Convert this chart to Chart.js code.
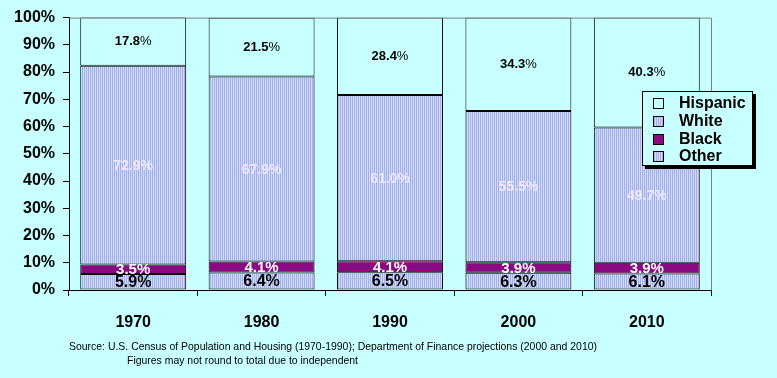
<!DOCTYPE html>
<html>
<head>
<meta charset="utf-8">
<script src="https://cdn.jsdelivr.net/npm/chart.js@4/dist/chart.umd.min.js"></script>
<style>
  html, body { margin: 0; padding: 0; background: #c8ffff; }
  #wrap { width: 777px; height: 378px; position: relative; }
</style>
</head>
<body>
<div id="wrap"><canvas id="c" width="777" height="378"></canvas></div>
<script>
const categories = ['1970', '1980', '1990', '2000', '2010'];
const hispanic = [17.8, 21.5, 28.4, 34.3, 40.3];
const white    = [72.9, 67.9, 61.0, 55.5, 49.7];
const black    = [3.5, 4.1, 4.1, 3.9, 3.9];
const other    = [5.9, 6.4, 6.5, 6.3, 6.1];
const yTicks   = [0, 10, 20, 30, 40, 50, 60, 70, 80, 90, 100];
const sourceLines = [
  'Source: U.S. Census of Population and Housing (1970-1990); Department of Finance projections (2000 and 2010)',
  'Figures may not round to total due to independent'
];

const FONT = 'Arial, "Liberation Sans", sans-serif';
const BG = '#c8ffff';

function makePattern() {
  const p = document.createElement('canvas');
  p.width = 2; p.height = 2;
  const g = p.getContext('2d');
  g.fillStyle = '#a8ecfa'; g.fillRect(0, 0, 2, 2);
  g.fillStyle = '#cc9ee6';
  g.fillRect(0, 0, 1, 2);
  return document.getElementById('c').getContext('2d').createPattern(p, 'repeat');
}
const pat = makePattern();

const labelStyles = {
  Other:    { color: '#000000', font: 'bold 16px ' + FONT },
  Black:    { color: '#ffffff', font: 'bold 15px ' + FONT },
  White:    { color: '#eee8ff', font: 'bold 14px ' + FONT },
  Hispanic: { color: '#000000', font: 'bold 13px ' + FONT, pctFont: '13px ' + FONT }
};

const decor = {
  id: 'decor',
  beforeDraw(chart) {
    const ctx = chart.ctx;
    ctx.save();
    ctx.fillStyle = BG;
    ctx.fillRect(0, 0, chart.width, chart.height);
    ctx.restore();
  },
  afterDatasetsDraw(chart) {
    const ctx = chart.ctx;
    const a = chart.chartArea;
    ctx.save();
    ctx.strokeStyle = '#808080';
    ctx.lineWidth = 1;
    ctx.beginPath();
    ctx.moveTo(a.left, a.top + 0.5); ctx.lineTo(a.right + 0.5, a.top + 0.5);
    ctx.lineTo(a.right + 0.5, a.bottom);
    ctx.stroke();
    chart.data.datasets.forEach((ds, di) => {
      const meta = chart.getDatasetMeta(di);
      const st = labelStyles[ds.label];
      meta.data.forEach((bar, i) => {
        const v = ds.data[i];
        const cy = (bar.y + bar.base) / 2;
        ctx.textBaseline = 'middle';
        ctx.fillStyle = st.color;
        if (st.pctFont) {
          ctx.font = st.font;
          const num = v.toFixed(1);
          const w1 = ctx.measureText(num).width;
          ctx.font = st.pctFont;
          const w2 = ctx.measureText('%').width;
          const x0 = bar.x - (w1 + w2) / 2;
          ctx.textAlign = 'left';
          ctx.font = st.font;
          ctx.fillText(num, x0, cy);
          ctx.font = st.pctFont;
          ctx.fillText('%', x0 + w1, cy);
        } else {
          ctx.font = st.font;
          ctx.textAlign = 'center';
          ctx.fillText(v.toFixed(1) + '%', bar.x, cy + 1);
        }
      });
    });
    ctx.restore();
  },
  afterDraw(chart) {
    const ctx = chart.ctx;
    ctx.save();
    const lx = 642, ly = 91, lw = 111, lh = 75;
    ctx.fillStyle = '#000000';
    ctx.fillRect(lx + 3, ly + 3, lw, lh);
    ctx.fillStyle = BG;
    ctx.fillRect(lx, ly, lw, lh);
    ctx.strokeStyle = '#000000';
    ctx.lineWidth = 1;
    ctx.strokeRect(lx + 0.5, ly + 0.5, lw - 1, lh - 1);
    const order = ['Hispanic', 'White', 'Black', 'Other'];
    const rowY = [103, 121, 139, 156];
    order.forEach((name, k) => {
      const ds = chart.data.datasets.find(d => d.label === name);
      ctx.fillStyle = ds.backgroundColor;
      ctx.fillRect(653, rowY[k] - 5, 11, 11);
      ctx.strokeStyle = '#000000';
      ctx.strokeRect(653.5, rowY[k] - 4.5, 10, 10);
      ctx.fillStyle = '#000000';
      ctx.font = 'bold 16px ' + FONT;
      ctx.textAlign = 'left';
      ctx.textBaseline = 'middle';
      ctx.fillText(name, 679, rowY[k] + 1);
    });
    ctx.font = '11px ' + FONT;
    ctx.fillStyle = '#000000';
    ctx.textBaseline = 'middle';
    ctx.textAlign = 'left';
    const targets = [[69, 347, 528], [127, 361, 231]];
    sourceLines.forEach((t, k) => {
      const [x, y, w] = targets[k];
      const mw = ctx.measureText(t).width;
      ctx.save();
      ctx.translate(x, y);
      ctx.scale(w / mw, 1);
      ctx.fillText(t, 0, 0);
      ctx.restore();
    });
    ctx.restore();
  }
};

const mk = (label, data, color) => ({
  label, data, backgroundColor: color, borderColor: '#000000',
  borderWidth: 1, borderSkipped: false,
  categoryPercentage: 1.0, barPercentage: 0.825
});

new Chart(document.getElementById('c'), {
  type: 'bar',
  data: {
    labels: categories,
    datasets: [
      mk('Other', other, pat),
      mk('Black', black, '#8b0a82'),
      mk('White', white, pat),
      mk('Hispanic', hispanic, BG)
    ]
  },
  options: {
    responsive: false,
    animation: false,
    layout: { padding: { top: 16, right: 66, left: 0, bottom: 0 } },
    plugins: { legend: { display: false }, tooltip: { enabled: false }, title: { display: false } },
    scales: {
      x: {
        stacked: true,
        afterFit(s) { s.height = 88; },
        border: { display: true, color: '#000000', width: 1 },
        grid: { display: true, offset: true, drawOnChartArea: false, color: '#000000', tickLength: 6 },
        ticks: { color: '#000000', font: { family: FONT, size: 16, weight: 'bold' }, padding: 17 }
      },
      y: {
        stacked: true,
        min: 0, max: 100,
        afterFit(s) { s.width = 69; },
        afterBuildTicks(s) { s.ticks = yTicks.map(v => ({ value: v })); },
        border: { display: true, color: '#000000', width: 1 },
        grid: { display: true, drawOnChartArea: false, color: '#000000', tickLength: 6 },
        ticks: { color: '#000000', font: { family: FONT, size: 16, weight: 'bold' }, padding: 8,
                 callback: v => v + '%' }
      }
    }
  },
  plugins: [decor]
});
</script>
</body>
</html>
